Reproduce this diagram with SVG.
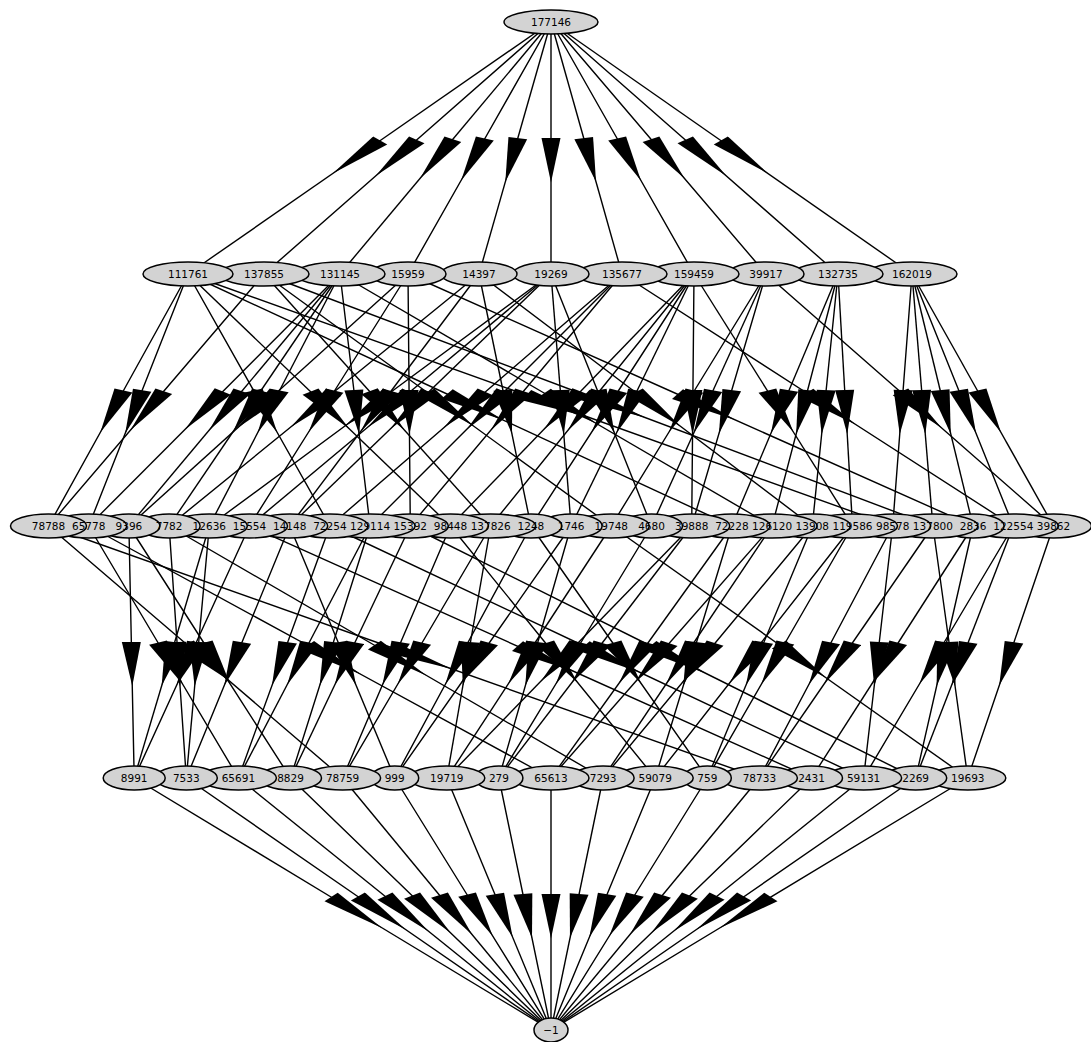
<svg xmlns="http://www.w3.org/2000/svg" width="1091" height="1042" viewBox="0 0 1091 1042">
<style>
.e{fill:none;stroke:#000;stroke-width:1.4;vector-effect:non-scaling-stroke;marker-mid:url(#a)}
ellipse{fill:#d3d3d3;stroke:#000;stroke-width:1.5}
text{font-family:"DejaVu Sans",sans-serif;font-size:10.5px;text-anchor:middle;fill:#000}
</style>
<defs>
<marker id="a" viewBox="-17 -10 74 20" markerWidth="74" markerHeight="20" refX="0" refY="0" orient="auto" markerUnits="userSpaceOnUse">
<path d="M55,0 L-16,-9.5 L-16,9.5 Z" fill="#000"/>
</marker>
</defs>
<rect width="1091" height="1042" fill="#fff"/>
<g id="edges" transform="scale(1,0.625)">
<polyline class="e" points="551,35.2 369.5,236.8 188,438.4"/>
<polyline class="e" points="551,35.2 407.5,236.8 264,438.4"/>
<polyline class="e" points="551,35.2 445.5,236.8 340,438.4"/>
<polyline class="e" points="551,35.2 479.5,236.8 408,438.4"/>
<polyline class="e" points="551,35.2 515,236.8 479,438.4"/>
<polyline class="e" points="551,35.2 551,236.8 551,438.4"/>
<polyline class="e" points="551,35.2 586.5,236.8 622,438.4"/>
<polyline class="e" points="551,35.2 622.5,236.8 694,438.4"/>
<polyline class="e" points="551,35.2 658.5,236.8 766,438.4"/>
<polyline class="e" points="551,35.2 694.5,236.8 838,438.4"/>
<polyline class="e" points="551,35.2 731.5,236.8 912,438.4"/>

<polyline class="e" points="188,438.4 118.25,640 48.5,841.6"/>
<polyline class="e" points="188,438.4 138.35,640 88.7,841.6"/>
<polyline class="e" points="188,438.4 258.95,640 329.9,841.6"/>
<polyline class="e" points="188,438.4 319.25,640 450.5,841.6"/>
<polyline class="e" points="188,438.4 459.95,640 731.9,841.6"/>
<polyline class="e" points="188,438.4 540.35,640 892.7,841.6"/>
<polyline class="e" points="264,438.4 156.25,640 48.5,841.6"/>
<polyline class="e" points="264,438.4 377.35,640 490.7,841.6"/>
<polyline class="e" points="264,438.4 437.65,640 611.3,841.6"/>
<polyline class="e" points="264,438.4 598.45,640 932.9,841.6"/>
<polyline class="e" points="340,438.4 214.35,640 88.7,841.6"/>
<polyline class="e" points="340,438.4 234.45,640 128.9,841.6"/>
<polyline class="e" points="340,438.4 254.55,640 169.1,841.6"/>
<polyline class="e" points="340,438.4 274.65,640 209.3,841.6"/>
<polyline class="e" points="340,438.4 355.05,640 370.1,841.6"/>
<polyline class="e" points="340,438.4 556.05,640 772.1,841.6"/>
<polyline class="e" points="408,438.4 268.45,640 128.9,841.6"/>
<polyline class="e" points="408,438.4 328.75,640 249.5,841.6"/>
<polyline class="e" points="408,438.4 409.15,640 410.3,841.6"/>
<polyline class="e" points="408,438.4 690.55,640 973.1,841.6"/>
<polyline class="e" points="479,438.4 324.05,640 169.1,841.6"/>
<polyline class="e" points="479,438.4 384.35,640 289.7,841.6"/>
<polyline class="e" points="479,438.4 504.95,640 530.9,841.6"/>
<polyline class="e" points="479,438.4 645.65,640 812.3,841.6"/>
<polyline class="e" points="551,438.4 380.15,640 209.3,841.6"/>
<polyline class="e" points="551,438.4 400.25,640 249.5,841.6"/>
<polyline class="e" points="551,438.4 420.35,640 289.7,841.6"/>
<polyline class="e" points="551,438.4 561.05,640 571.1,841.6"/>
<polyline class="e" points="551,438.4 601.25,640 651.5,841.6"/>
<polyline class="e" points="622,438.4 475.95,640 329.9,841.6"/>
<polyline class="e" points="622,438.4 496.05,640 370.1,841.6"/>
<polyline class="e" points="622,438.4 516.15,640 410.3,841.6"/>
<polyline class="e" points="622,438.4 817.65,640 1013.3,841.6"/>
<polyline class="e" points="694,438.4 572.25,640 450.5,841.6"/>
<polyline class="e" points="694,438.4 592.35,640 490.7,841.6"/>
<polyline class="e" points="694,438.4 612.45,640 530.9,841.6"/>
<polyline class="e" points="694,438.4 632.55,640 571.1,841.6"/>
<polyline class="e" points="694,438.4 692.85,640 691.7,841.6"/>
<polyline class="e" points="694,438.4 773.25,640 852.5,841.6"/>
<polyline class="e" points="766,438.4 688.65,640 611.3,841.6"/>
<polyline class="e" points="766,438.4 708.75,640 651.5,841.6"/>
<polyline class="e" points="766,438.4 728.85,640 691.7,841.6"/>
<polyline class="e" points="766,438.4 909.75,640 1053.5,841.6"/>
<polyline class="e" points="838,438.4 784.95,640 731.9,841.6"/>
<polyline class="e" points="838,438.4 805.05,640 772.1,841.6"/>
<polyline class="e" points="838,438.4 825.15,640 812.3,841.6"/>
<polyline class="e" points="838,438.4 845.25,640 852.5,841.6"/>
<polyline class="e" points="912,438.4 902.35,640 892.7,841.6"/>
<polyline class="e" points="912,438.4 922.45,640 932.9,841.6"/>
<polyline class="e" points="912,438.4 942.55,640 973.1,841.6"/>
<polyline class="e" points="912,438.4 962.65,640 1013.3,841.6"/>
<polyline class="e" points="912,438.4 982.75,640 1053.5,841.6"/>

<polyline class="e" points="128.9,841.6 131.55,1043.2 134.2,1244.8"/>
<polyline class="e" points="209.3,841.6 171.75,1043.2 134.2,1244.8"/>
<polyline class="e" points="249.5,841.6 191.85,1043.2 134.2,1244.8"/>
<polyline class="e" points="169.1,841.6 177.7,1043.2 186.3,1244.8"/>
<polyline class="e" points="209.3,841.6 197.8,1043.2 186.3,1244.8"/>
<polyline class="e" points="289.7,841.6 238,1043.2 186.3,1244.8"/>
<polyline class="e" points="88.7,841.6 163.55,1043.2 238.4,1244.8"/>
<polyline class="e" points="329.9,841.6 284.15,1043.2 238.4,1244.8"/>
<polyline class="e" points="370.1,841.6 304.25,1043.2 238.4,1244.8"/>
<polyline class="e" points="128.9,841.6 209.7,1043.2 290.5,1244.8"/>
<polyline class="e" points="370.1,841.6 330.3,1043.2 290.5,1244.8"/>
<polyline class="e" points="410.3,841.6 350.4,1043.2 290.5,1244.8"/>
<polyline class="e" points="48.5,841.6 195.55,1043.2 342.6,1244.8"/>
<polyline class="e" points="450.5,841.6 396.55,1043.2 342.6,1244.8"/>
<polyline class="e" points="490.7,841.6 416.65,1043.2 342.6,1244.8"/>
<polyline class="e" points="289.7,841.6 342.2,1043.2 394.7,1244.8"/>
<polyline class="e" points="530.9,841.6 462.8,1043.2 394.7,1244.8"/>
<polyline class="e" points="571.1,841.6 482.9,1043.2 394.7,1244.8"/>
<polyline class="e" points="490.7,841.6 468.75,1043.2 446.8,1244.8"/>
<polyline class="e" points="611.3,841.6 529.05,1043.2 446.8,1244.8"/>
<polyline class="e" points="691.7,841.6 569.25,1043.2 446.8,1244.8"/>
<polyline class="e" points="571.1,841.6 535,1043.2 498.9,1244.8"/>
<polyline class="e" points="651.5,841.6 575.2,1043.2 498.9,1244.8"/>
<polyline class="e" points="691.7,841.6 595.3,1043.2 498.9,1244.8"/>
<polyline class="e" points="88.7,841.6 319.85,1043.2 551,1244.8"/>
<polyline class="e" points="731.9,841.6 641.45,1043.2 551,1244.8"/>
<polyline class="e" points="772.1,841.6 661.55,1043.2 551,1244.8"/>
<polyline class="e" points="169.1,841.6 386.1,1043.2 603.1,1244.8"/>
<polyline class="e" points="772.1,841.6 687.6,1043.2 603.1,1244.8"/>
<polyline class="e" points="812.3,841.6 707.7,1043.2 603.1,1244.8"/>
<polyline class="e" points="450.5,841.6 552.85,1043.2 655.2,1244.8"/>
<polyline class="e" points="731.9,841.6 693.55,1043.2 655.2,1244.8"/>
<polyline class="e" points="852.5,841.6 753.85,1043.2 655.2,1244.8"/>
<polyline class="e" points="530.9,841.6 619.1,1043.2 707.3,1244.8"/>
<polyline class="e" points="812.3,841.6 759.8,1043.2 707.3,1244.8"/>
<polyline class="e" points="852.5,841.6 779.9,1043.2 707.3,1244.8"/>
<polyline class="e" points="48.5,841.6 403.95,1043.2 759.4,1244.8"/>
<polyline class="e" points="892.7,841.6 826.05,1043.2 759.4,1244.8"/>
<polyline class="e" points="932.9,841.6 846.15,1043.2 759.4,1244.8"/>
<polyline class="e" points="249.5,841.6 530.5,1043.2 811.5,1244.8"/>
<polyline class="e" points="973.1,841.6 892.3,1043.2 811.5,1244.8"/>
<polyline class="e" points="329.9,841.6 596.75,1043.2 863.6,1244.8"/>
<polyline class="e" points="892.7,841.6 878.15,1043.2 863.6,1244.8"/>
<polyline class="e" points="1013.3,841.6 938.45,1043.2 863.6,1244.8"/>
<polyline class="e" points="410.3,841.6 663,1043.2 915.7,1244.8"/>
<polyline class="e" points="973.1,841.6 944.4,1043.2 915.7,1244.8"/>
<polyline class="e" points="1013.3,841.6 964.5,1043.2 915.7,1244.8"/>
<polyline class="e" points="611.3,841.6 789.55,1043.2 967.8,1244.8"/>
<polyline class="e" points="932.9,841.6 950.35,1043.2 967.8,1244.8"/>
<polyline class="e" points="1053.5,841.6 1010.65,1043.2 967.8,1244.8"/>

<polyline class="e" points="134.2,1244.8 342.6,1446.4 551,1648"/>
<polyline class="e" points="186.3,1244.8 368.65,1446.4 551,1648"/>
<polyline class="e" points="238.4,1244.8 394.7,1446.4 551,1648"/>
<polyline class="e" points="290.5,1244.8 420.75,1446.4 551,1648"/>
<polyline class="e" points="342.6,1244.8 446.8,1446.4 551,1648"/>
<polyline class="e" points="394.7,1244.8 472.85,1446.4 551,1648"/>
<polyline class="e" points="446.8,1244.8 498.9,1446.4 551,1648"/>
<polyline class="e" points="498.9,1244.8 524.95,1446.4 551,1648"/>
<polyline class="e" points="551,1244.8 551,1446.4 551,1648"/>
<polyline class="e" points="603.1,1244.8 577.05,1446.4 551,1648"/>
<polyline class="e" points="655.2,1244.8 603.1,1446.4 551,1648"/>
<polyline class="e" points="707.3,1244.8 629.15,1446.4 551,1648"/>
<polyline class="e" points="759.4,1244.8 655.2,1446.4 551,1648"/>
<polyline class="e" points="811.5,1244.8 681.25,1446.4 551,1648"/>
<polyline class="e" points="863.6,1244.8 707.3,1446.4 551,1648"/>
<polyline class="e" points="915.7,1244.8 733.35,1446.4 551,1648"/>
<polyline class="e" points="967.8,1244.8 759.4,1446.4 551,1648"/>
</g>

<g id="nodes">
<g id="n177146"><ellipse cx="551" cy="22" rx="47" ry="12"/></g>
<g id="n162019"><ellipse cx="912" cy="274" rx="45" ry="12"/></g>
<g id="n132735"><ellipse cx="838" cy="274" rx="45" ry="12"/></g>
<g id="n39917"><ellipse cx="766" cy="274" rx="38" ry="12"/></g>
<g id="n159459"><ellipse cx="694" cy="274" rx="45" ry="12"/></g>
<g id="n135677"><ellipse cx="622" cy="274" rx="45" ry="12"/></g>
<g id="n19269"><ellipse cx="551" cy="274" rx="38" ry="12"/></g>
<g id="n14397"><ellipse cx="479" cy="274" rx="38" ry="12"/></g>
<g id="n15959"><ellipse cx="408" cy="274" rx="38" ry="12"/></g>
<g id="n131145"><ellipse cx="340" cy="274" rx="45" ry="12"/></g>
<g id="n137855"><ellipse cx="264" cy="274" rx="45" ry="12"/></g>
<g id="n111761"><ellipse cx="188" cy="274" rx="45" ry="12"/></g>
<g id="n39862"><ellipse cx="1053.5" cy="526" rx="38" ry="12"/></g>
<g id="n122554"><ellipse cx="1013.3" cy="526" rx="45" ry="12"/></g>
<g id="n2836"><ellipse cx="973.1" cy="526" rx="31" ry="12"/></g>
<g id="n137800"><ellipse cx="932.9" cy="526" rx="45" ry="12"/></g>
<g id="n98578"><ellipse cx="892.7" cy="526" rx="38" ry="12"/></g>
<g id="n119586"><ellipse cx="852.5" cy="526" rx="45" ry="12"/></g>
<g id="n13908"><ellipse cx="812.3" cy="526" rx="38" ry="12"/></g>
<g id="n126120"><ellipse cx="772.1" cy="526" rx="45" ry="12"/></g>
<g id="n72228"><ellipse cx="731.9" cy="526" rx="38" ry="12"/></g>
<g id="n39888"><ellipse cx="691.7" cy="526" rx="38" ry="12"/></g>
<g id="n4680"><ellipse cx="651.5" cy="526" rx="31" ry="12"/></g>
<g id="n19748"><ellipse cx="611.3" cy="526" rx="38" ry="12"/></g>
<g id="n1746"><ellipse cx="571.1" cy="526" rx="31" ry="12"/></g>
<g id="n1248"><ellipse cx="530.9" cy="526" rx="31" ry="12"/></g>
<g id="n137826"><ellipse cx="490.7" cy="526" rx="45" ry="12"/></g>
<g id="n98448"><ellipse cx="450.5" cy="526" rx="38" ry="12"/></g>
<g id="n15392"><ellipse cx="410.3" cy="526" rx="38" ry="12"/></g>
<g id="n129114"><ellipse cx="370.1" cy="526" rx="45" ry="12"/></g>
<g id="n72254"><ellipse cx="329.9" cy="526" rx="38" ry="12"/></g>
<g id="n14148"><ellipse cx="289.7" cy="526" rx="38" ry="12"/></g>
<g id="n15554"><ellipse cx="249.5" cy="526" rx="38" ry="12"/></g>
<g id="n12636"><ellipse cx="209.3" cy="526" rx="38" ry="12"/></g>
<g id="n7782"><ellipse cx="169.1" cy="526" rx="31" ry="12"/></g>
<g id="n9396"><ellipse cx="128.9" cy="526" rx="31" ry="12"/></g>
<g id="n65778"><ellipse cx="88.7" cy="526" rx="38" ry="12"/></g>
<g id="n78788"><ellipse cx="48.5" cy="526" rx="38" ry="12"/></g>
<g id="n19693"><ellipse cx="967.8" cy="778" rx="38" ry="12"/></g>
<g id="n2269"><ellipse cx="915.7" cy="778" rx="31" ry="12"/></g>
<g id="n59131"><ellipse cx="863.6" cy="778" rx="38" ry="12"/></g>
<g id="n2431"><ellipse cx="811.5" cy="778" rx="31" ry="12"/></g>
<g id="n78733"><ellipse cx="759.4" cy="778" rx="38" ry="12"/></g>
<g id="n759"><ellipse cx="707.3" cy="778" rx="24" ry="12"/></g>
<g id="n59079"><ellipse cx="655.2" cy="778" rx="38" ry="12"/></g>
<g id="n7293"><ellipse cx="603.1" cy="778" rx="31" ry="12"/></g>
<g id="n65613"><ellipse cx="551" cy="778" rx="38" ry="12"/></g>
<g id="n279"><ellipse cx="498.9" cy="778" rx="24" ry="12"/></g>
<g id="n19719"><ellipse cx="446.8" cy="778" rx="38" ry="12"/></g>
<g id="n999"><ellipse cx="394.7" cy="778" rx="24" ry="12"/></g>
<g id="n78759"><ellipse cx="342.6" cy="778" rx="38" ry="12"/></g>
<g id="n8829"><ellipse cx="290.5" cy="778" rx="31" ry="12"/></g>
<g id="n65691"><ellipse cx="238.4" cy="778" rx="38" ry="12"/></g>
<g id="n7533"><ellipse cx="186.3" cy="778" rx="31" ry="12"/></g>
<g id="n8991"><ellipse cx="134.2" cy="778" rx="31" ry="12"/></g>
<g id="n_minus1"><ellipse cx="551" cy="1030" rx="17" ry="12"/></g>
</g>

<g id="labels">
<text x="551" y="25.8">177146</text>
<text x="912" y="277.8">162019</text>
<text x="838" y="277.8">132735</text>
<text x="766" y="277.8">39917</text>
<text x="694" y="277.8">159459</text>
<text x="622" y="277.8">135677</text>
<text x="551" y="277.8">19269</text>
<text x="479" y="277.8">14397</text>
<text x="408" y="277.8">15959</text>
<text x="340" y="277.8">131145</text>
<text x="264" y="277.8">137855</text>
<text x="188" y="277.8">111761</text>
<text x="1053.5" y="529.8">39862</text>
<text x="1013.3" y="529.8">122554</text>
<text x="973.1" y="529.8">2836</text>
<text x="932.9" y="529.8">137800</text>
<text x="892.7" y="529.8">98578</text>
<text x="852.5" y="529.8">119586</text>
<text x="812.3" y="529.8">13908</text>
<text x="772.1" y="529.8">126120</text>
<text x="731.9" y="529.8">72228</text>
<text x="691.7" y="529.8">39888</text>
<text x="651.5" y="529.8">4680</text>
<text x="611.3" y="529.8">19748</text>
<text x="571.1" y="529.8">1746</text>
<text x="530.9" y="529.8">1248</text>
<text x="490.7" y="529.8">137826</text>
<text x="450.5" y="529.8">98448</text>
<text x="410.3" y="529.8">15392</text>
<text x="370.1" y="529.8">129114</text>
<text x="329.9" y="529.8">72254</text>
<text x="289.7" y="529.8">14148</text>
<text x="249.5" y="529.8">15554</text>
<text x="209.3" y="529.8">12636</text>
<text x="169.1" y="529.8">7782</text>
<text x="128.9" y="529.8">9396</text>
<text x="88.7" y="529.8">65778</text>
<text x="48.5" y="529.8">78788</text>
<text x="967.8" y="781.8">19693</text>
<text x="915.7" y="781.8">2269</text>
<text x="863.6" y="781.8">59131</text>
<text x="811.5" y="781.8">2431</text>
<text x="759.4" y="781.8">78733</text>
<text x="707.3" y="781.8">759</text>
<text x="655.2" y="781.8">59079</text>
<text x="603.1" y="781.8">7293</text>
<text x="551" y="781.8">65613</text>
<text x="498.9" y="781.8">279</text>
<text x="446.8" y="781.8">19719</text>
<text x="394.7" y="781.8">999</text>
<text x="342.6" y="781.8">78759</text>
<text x="290.5" y="781.8">8829</text>
<text x="238.4" y="781.8">65691</text>
<text x="186.3" y="781.8">7533</text>
<text x="134.2" y="781.8">8991</text>
<text x="551" y="1033.8">−1</text>
</g>
</svg>
